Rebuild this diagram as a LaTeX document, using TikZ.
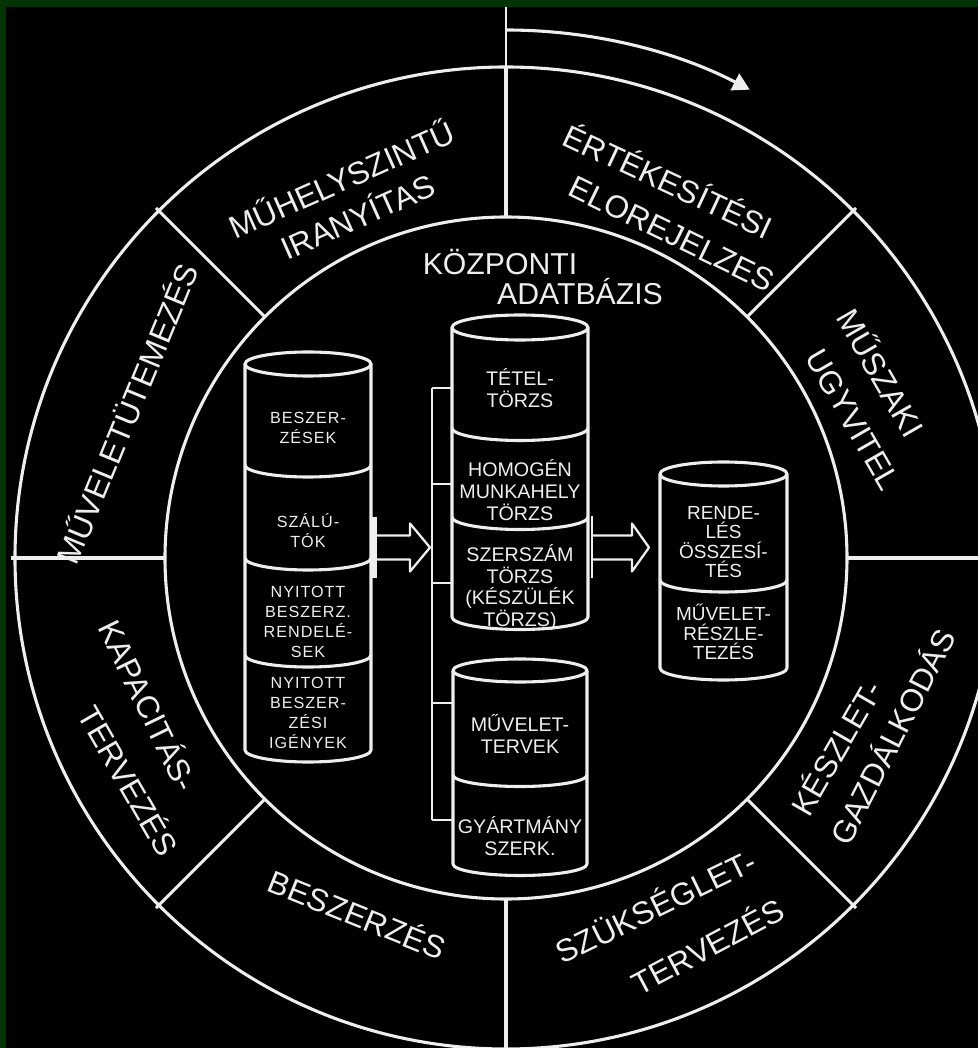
\documentclass[tikz,border=0pt]{standalone}
\usepackage{fontspec}
\setmainfont{Liberation Sans}
\usetikzlibrary{arrows.meta}
\definecolor{bordergreen}{RGB}{4,52,6}
\definecolor{ink}{RGB}{238,238,238}
\newcommand\drawcyl[5]{%
  \draw[ln] (#1,#4) ellipse [x radius=#2, y radius=#3];
  \draw[ln] ({#1-#2},#4) -- ({#1-#2},#5) arc[start angle=180, end angle=360, x radius=#2, y radius=#3] -- ({#1+#2},#4);
}
\newcommand\cylsep[4]{%
  \draw[ln] ({#1-#2},#4) arc[start angle=180, end angle=360, x radius=#2, y radius=#3];
}
\begin{document}
\begin{tikzpicture}[x=0.25mm, y=0.25mm, line join=round,
  ln/.style={draw=ink, line width=2.2pt},
  thinln/.style={draw=ink, line width=1.6pt},
  seg/.style={text=ink, font=\fontsize{22.5}{27}\selectfont, inner sep=0pt},
  ctr/.style={text=ink, font=\fontsize{21.5}{26}\selectfont, inner sep=0pt},
  cyl/.style={text=ink, font=\fontsize{14}{15.6}\selectfont, align=center, inner sep=0pt},
  cyld/.style={text=ink, font=\fontsize{13.5}{13.9}\selectfont, align=center, inner sep=0pt},
  cyla/.style={text=ink, font=\fontsize{11.5}{14.2}\selectfont\addfontfeatures{LetterSpace=6}, align=center, inner sep=0pt}]
\useasboundingbox (-506,-490) rectangle (472,558);
\fill[bordergreen] (-506,-490) rectangle (472,558);
\fill[black] (-500,-490) rectangle (472,551);
\begin{scope}
\clip (-500,-490) rectangle (472,551);
% rings
\draw[ln] (0,0) circle (341);
\draw[ln] (0,0) circle (491);
\foreach \a in {0,45,135,180,225,270,315} {\draw[ln] (\a:341) -- (\a:495);}
\draw[ln] (90:341) -- (90:491);
\draw[thinln] (90:491) -- (0,551);
% rotation arrow
\draw[ln, -{Triangle[length=12pt,width=13pt]}] (90:528) arc[start angle=90, end angle=62.5, radius=528];
% segment labels
\node[seg, rotate=24] (muh1) at (-165,380) {MŰHELYSZINTŰ};
\node[seg, rotate=24] (muh2) at (-149,343) {IRANYÍTAS};
\node[seg, rotate=-25] (ert1) at (163,378) {ÉRTÉKESÍTÉSI};
\node[seg, rotate=-26] (ert2) at (166,324) {ELOREJELZES};
\node[seg, rotate=-60] (msz1) at (376,186) {MŰSZAKI};
\node[seg, rotate=-60] (msz2) at (347,138) {UGYVITEL};
\node[seg, rotate=60] (kesz1) at (329,-189) {KÉSZLET-};
\node[seg, rotate=63] (kesz2) at (385,-178) {GAZDÁLKODÁS};
\node[seg, rotate=26] (szuk1) at (149,-347) {SZÜKSÉGLET-};
\node[seg, rotate=28] (szuk2) at (201,-387) {TERVEZÉS};
\node[seg, rotate=-22] (besz) at (-148,-355) {BESZERZÉS};
\node[seg, rotate=-64] (kap1) at (-356,-147) {KAPACITÁS-};
\node[seg, rotate=-60] (kap2) at (-376,-222) {TERVEZÉS};
\node[seg, rotate=67.5] (muv) at (-380,145) {MŰVELETÜTEMEZÉS};
% central title
\node[ctr] (kozp) at (-6,296) {KÖZPONTI};
\node[ctr] (adat) at (74,266) {ADATBÁZIS};
% cylinder A
\drawcyl{-198}{63}{12}{194}{-192}
\cylsep{-198}{63}{12}{93}
\cylsep{-198}{63}{12}{0}
\cylsep{-198}{63}{12}{-97}
\node[cyla] (a1) at (-198,130) {BESZER-\\ZÉSEK};
\node[cyla] (a2) at (-198,27) {SZÁLÚ-\\TÓK};
\node[cyla] (a3) at (-198,-63.5) {NYITOTT\\BESZERZ.\\RENDELÉ-\\SEK};
\node[cyla] (a4) at (-198,-155) {NYITOTT\\BESZER-\\ZÉSI\\IGÉNYEK};
% cylinder B
\drawcyl{14}{68}{12.5}{230.5}{-59}
\cylsep{14}{68}{12.5}{130}
\cylsep{14}{68}{12.5}{41}
\node[cyl] (b1) at (14,169.5) {TÉTEL-\\TÖRZS};
\node[cyl] (b2) at (14,68) {HOMOGÉN\\MUNKAHELY\\TÖRZS};
\node[cyl] (b3) at (14,-29.5) {SZERSZÁM\\TÖRZS\\(KÉSZÜLÉK\\TÖRZS)};
% cylinder C
\drawcyl{14}{67}{11.5}{-112.5}{-306}
\cylsep{14}{67}{11.5}{-217}
\node[cyl] (c1) at (14,-176) {MŰVELET-\\TERVEK};
\node[cyl] (c2) at (14,-278) {GYÁRTMÁNY\\SZERK.};
% cylinder D
\drawcyl{217.5}{63.5}{12}{84}{-110}
\cylsep{217.5}{63.5}{12}{-22}
\node[cyld] (d1) at (217.5,16) {RENDE-\\LÉS\\ÖSSZESÍ-\\TÉS};
\node[cyld] (d2) at (217.5,-74) {MŰVELET-\\RÉSZLE-\\TEZÉS};
% bracket
\coordinate (brtop) at (-74,170);
\coordinate (brbot) at (-74,-262);
\draw[thinln] (brtop) -- (brbot);
\foreach \y in {170,74,-25,-145,-262} {\draw[thinln] (-74,\y) -- (-54,\y);}
% arrow A -> B
\fill[ink] (-136,41) rectangle (-129,-20);
\draw[thinln] (-129,22.5) -- (-96,22.5) -- (-96,34.5) -- (-76,10.5) -- (-96,-13.5) -- (-96,-1.5) -- (-129,-1.5);
% arrow B -> D
\draw[thinln] (86,42) -- (86,-20);
\draw[thinln] (86,22.5) -- (126,22.5) -- (126,34.5) -- (143,10.5) -- (126,-13.5) -- (126,-1.5) -- (86,-1.5);
\end{scope}
\end{tikzpicture}
\end{document}
